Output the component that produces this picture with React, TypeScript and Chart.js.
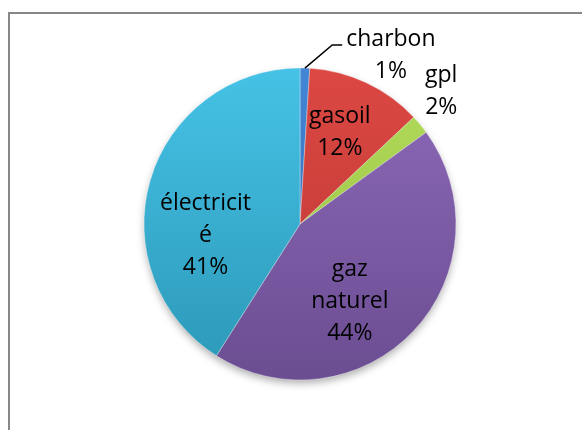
import React, { useEffect, useRef } from "react";
import { Chart, registerables } from "chart.js";

Chart.register(...registerables);

// ---- data ----
const categories = ["charbon", "gasoil", "gpl", "gaz naturel", "électricité"];
const wrappedNames = [["charbon"], ["gasoil"], ["gpl"], ["gaz", "naturel"], ["électricit", "é"]];
const shares = [1, 12, 2, 44, 41];

// ---- styles ----
const colorsTop = ["#4386d6", "#dc4843", "#b4dc5c", "#8e6ab9", "#45c2e6"];
const colorsBottom = ["#2f68ae", "#bb3632", "#92bc3e", "#6b4d92", "#2c98b7"];
// label placement relative to each slice: radius factor and angular shift (deg)
const labelRadius = [1.225, 0.64, 1.24, 0.59, 0.61];
const labelShift = [26.6, -1.7, -3.5, 14, -23];
const outsideLabel = [true, false, true, false, false];
const FONT = "23px 'Open Sans'";
const LINE_H = 32;

const framePlugin = {
  id: "frame",
  beforeDraw(chart: any) {
    const c = chart.ctx;
    c.save();
    c.fillStyle = "#ffffff";
    c.fillRect(0, 0, chart.width, chart.height);
    c.fillStyle = "#878787";
    c.fillRect(8, 12, chart.width, 2);
    c.fillRect(8, 12, 2, chart.height);
    c.restore();
  },
};

const shadowPlugin = {
  id: "pieShadow",
  beforeDatasetsDraw(chart: any) {
    const meta = chart.getDatasetMeta(0);
    if (!meta.data.length) return;
    const a: any = meta.data[0];
    const c = chart.ctx;
    c.save();
    c.shadowColor = "rgba(0,0,0,0.35)";
    c.shadowBlur = 8;
    c.shadowOffsetY = 4;
    c.fillStyle = "#888";
    c.beginPath();
    c.arc(a.x, a.y, a.outerRadius - 1, 0, Math.PI * 2);
    c.fill();
    c.restore();
  },
};

const labelPlugin = {
  id: "sliceLabels",
  afterDatasetsDraw(chart: any) {
    const meta = chart.getDatasetMeta(0);
    const total = shares.reduce((s, v) => s + v, 0);
    const c = chart.ctx;
    c.save();
    c.font = FONT;
    c.fillStyle = "#000";
    c.textAlign = "center";
    c.textBaseline = "middle";
    meta.data.forEach((arc: any, i: number) => {
      const { x, y, startAngle, endAngle, outerRadius } = arc.getProps(
        ["x", "y", "startAngle", "endAngle", "outerRadius"],
        true
      );
      const mid = (startAngle + endAngle) / 2;
      const ang = mid + (labelShift[i] * Math.PI) / 180;
      const px = x + Math.cos(ang) * outerRadius * labelRadius[i];
      const py = y + Math.sin(ang) * outerRadius * labelRadius[i];
      const lines = [...wrappedNames[i], Math.round((shares[i] / total) * 100) + "%"];
      const y0 = py - ((lines.length - 1) / 2) * LINE_H;
      lines.forEach((t, j) => c.fillText(t, px, y0 + j * LINE_H));
      if (outsideLabel[i] && shares[i] / total < 0.015) {
        const w = Math.max(...lines.map((t) => c.measureText(t).width));
        const sx = x + Math.cos(mid) * outerRadius;
        const sy = y + Math.sin(mid) * outerRadius;
        const ex = px - w / 2 - 4;
        const ey = y0 + 5;
        c.strokeStyle = "#000";
        c.lineWidth = 1.5;
        c.beginPath();
        c.moveTo(sx, sy);
        c.lineTo(ex - 10, ey);
        c.lineTo(ex, ey);
        c.stroke();
      }
    });
    c.restore();
  },
};

export default function App() {
  const ref = useRef<HTMLCanvasElement | null>(null);
  useEffect(() => {
    if (!ref.current) return;
    const chart = new Chart(ref.current, {
      type: "pie",
      data: {
        labels: categories,
        datasets: [
          {
            data: shares,
            backgroundColor: (ctx: any) => {
              const i = ctx.dataIndex;
              const area = ctx.chart.chartArea;
              if (!area) return colorsTop[i];
              const g = ctx.chart.ctx.createLinearGradient(0, area.top, 0, area.bottom);
              g.addColorStop(0, colorsTop[i]);
              g.addColorStop(1, colorsBottom[i]);
              return g;
            },
            borderColor: "rgba(255,255,255,0.35)",
            borderWidth: 1,
            hoverOffset: 0,
          },
        ],
      },
      options: {
        responsive: false,
        animation: false,
        radius: 156,
        layout: { padding: { left: 144, right: 126, top: 68, bottom: 50 } },
        plugins: {
          legend: { display: false },
          tooltip: { enabled: false },
        },
        events: [],
      } as any,
      plugins: [framePlugin, shadowPlugin, labelPlugin],
    });
    return () => chart.destroy();
  }, []);
  return (
    <div style={{ position: "fixed", left: 0, top: 0, width: 582, height: 430 }}>
      <canvas ref={ref} width={582} height={430} style={{ width: 582, height: 430, display: "block" }} />
    </div>
  );
}
